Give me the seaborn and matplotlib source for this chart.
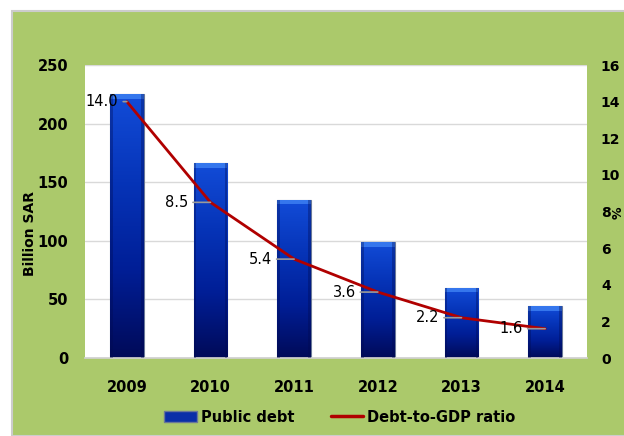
import numpy as np
import matplotlib
matplotlib.use('Agg')
import matplotlib.pyplot as plt
from matplotlib.colors import LinearSegmentedColormap
from matplotlib.patches import Rectangle, Patch
from matplotlib.lines import Line2D
import seaborn as sns

# chart data
years = ['2009', '2010', '2011', '2012', '2013', '2014']
public_debt = [225, 166, 135, 99, 60, 44]          # billion SAR
debt_to_gdp = [14.0, 8.5, 5.4, 3.6, 2.2, 1.6]      # percent
ratio_labels = ['14.0', '8.5', '5.4', '3.6', '2.2', '1.6']

sns.set_theme(style='white')
plt.rcParams['font.family'] = ['DejaVu Sans']
plt.rcParams['text.color'] = 'black'
plt.rcParams['xtick.color'] = 'black'
plt.rcParams['ytick.color'] = 'black'

green = '#abc96b'
line_red = '#b00000'

fig = plt.figure(figsize=(6.24, 4.36), dpi=100)
fig.patch.set_facecolor('white')
# green chart area with thin grey border
fig.patches.append(Rectangle((12 / 624, 0), 1, 1 - 11 / 436, transform=fig.transFigure,
                             facecolor=green, edgecolor='#cccccc', lw=1.5, zorder=-10))

ax = fig.add_axes([85 / 624, 1 - 358 / 436, 502 / 624, 293 / 436])
ax.set_facecolor('white')

sns.barplot(x=years, y=public_debt, ax=ax, color='#0a2fa8', width=0.4,
            edgecolor='#6a7898', linewidth=0.8, zorder=2)

# vertical blue gradient inside each bar
cmap = LinearSegmentedColormap.from_list('bar', ['#000a58', '#001e96', '#0634b8', '#124cd8'])
grad = np.linspace(0, 1, 256).reshape(-1, 1)
for p in list(ax.patches):
    x0, w, h = p.get_x(), p.get_width(), p.get_height()
    im = ax.imshow(grad, extent=[x0, x0 + w, 0, h], origin='lower', aspect='auto',
                   cmap=cmap, zorder=2.5)
    im.set_clip_path(p)
    # lighter bevel band at the top
    ax.add_patch(Rectangle((x0, h - 4), w, 4, facecolor='#3a7cf0', edgecolor='none',
                           alpha=0.9, zorder=2.6, clip_path=p))
    # darker side edges
    for xe in (x0, x0 + w * 0.92):
        ax.add_patch(Rectangle((xe, 0), w * 0.08, h, facecolor='#000a50', edgecolor='none',
                               alpha=0.35, zorder=2.7, clip_path=p))

ax.set_xlim(-0.5, len(years) - 0.5)
ax.set_ylim(0, 250)
ax.set_yticks(range(0, 251, 50))
ax.yaxis.grid(True, color='#d9d9d9', lw=1)
ax.set_axisbelow(True)
for s in ['top', 'right', 'left']:
    ax.spines[s].set_visible(False)
ax.spines['bottom'].set_color('#d0d0d0')
ax.tick_params(axis='both', length=0, labelsize=10.5, pad=12)
ax.tick_params(axis='x', pad=16)
for t in ax.get_xticklabels() + ax.get_yticklabels():
    t.set_fontweight('bold')
ax.set_ylabel('')

# ratio line on right axis
ax2 = ax.twinx()
sns.lineplot(x=years, y=debt_to_gdp, ax=ax2, color=line_red, lw=2, sort=False)
ax2.set_ylim(0, 16)
ax2.set_yticks(range(0, 17, 2))
for s in ax2.spines.values():
    s.set_visible(False)
ax2.tick_params(axis='y', length=0, labelsize=10, pad=10)
for t in ax2.get_yticklabels():
    t.set_fontweight('bold')
ax2.grid(False)

for i, (v, lab) in enumerate(zip(debt_to_gdp, ratio_labels)):
    off = -6 if i == 0 else -16
    ax2.annotate(lab, (i, v), xytext=(off, 0), textcoords='offset points',
                 ha='right', va='center', fontsize=10.5, color='black',
                 arrowprops=dict(arrowstyle='-', color='#9a9a9a', lw=1.2, shrinkA=1, shrinkB=0))

fig.text(30 / 624, 1 - 234 / 436, 'Billion SAR', rotation=90, ha='center', va='center',
         fontsize=10, fontweight='bold')
fig.text(618 / 624, 1 - 213 / 436, '%', rotation=90, ha='center', va='center',
         fontsize=9, fontweight='bold')

handles = [Patch(facecolor='#0a2fa8', edgecolor='#6a7898'),
           Line2D([0], [0], color=line_red, lw=2.5)]
fig.legend(handles, ['Public debt', 'Debt-to-GDP ratio'], loc='center',
           bbox_to_anchor=(340 / 624, 1 - 417 / 436), ncol=2, frameon=False,
           prop={'weight': 'bold', 'size': 10.5}, handlelength=2.2, handletextpad=0.3,
           columnspacing=2.5)

fig.savefig('out.png', dpi=100, facecolor=fig.get_facecolor())
